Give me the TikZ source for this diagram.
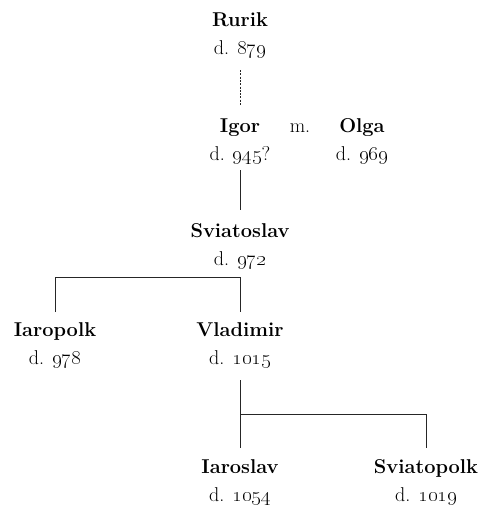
\documentclass[tikz,border=0pt]{standalone}
\begin{document}
\begin{tikzpicture}[x=1pt,y=-1pt,
  person/.style={align=center,inner sep=0pt,font=\fontsize{20}{28}\selectfont,anchor=base},
  link/.style={line width=0.9pt,black!85},
  dotlink/.style={link,dash pattern=on 2pt off 1.3pt}]
\useasboundingbox (0,0) rectangle (488,511);
\node[person] (rurik) at (240,55) {\textbf{Rurik}\\d. \oldstylenums{879}};
\node[person] (igor) at (240,160) {\textbf{Igor}\\d. \oldstylenums{945}?};
\node[person] (m) at (300,132) {m.};
\node[person] (olga) at (362,160) {\textbf{Olga}\\d. \oldstylenums{969}};
\node[person] (svia) at (240,265) {\textbf{Sviatoslav}\\d. \oldstylenums{972}};
\node[person] (iaro) at (55,364) {\textbf{Iaropolk}\\d. \oldstylenums{978}};
\node[person] (vlad) at (240,364) {\textbf{Vladimir}\\d. \oldstylenums{1015}};
\node[person] (iaros) at (240,501) {\textbf{Iaroslav}\\d. \oldstylenums{1054}};
\node[person] (sviap) at (426,501) {\textbf{Sviatopolk}\\d. \oldstylenums{1019}};
\coordinate (j2) at (240,414);
\draw[dotlink] ([yshift=-15pt]rurik.base) -- ([yshift=55pt]igor.base);
\draw[link] ([yshift=-10pt]igor.base) -- ([yshift=55pt]svia.base);
\draw[link] ([yshift=52pt]iaro.base) |- ([yshift=-12pt]svia.base) -- ([yshift=52pt]vlad.base);
\draw[link] ([yshift=-16pt]vlad.base) -- ([yshift=53pt]iaros.base);
\draw[link] (j2) -| ([yshift=53pt]sviap.base);
\end{tikzpicture}
\end{document}
